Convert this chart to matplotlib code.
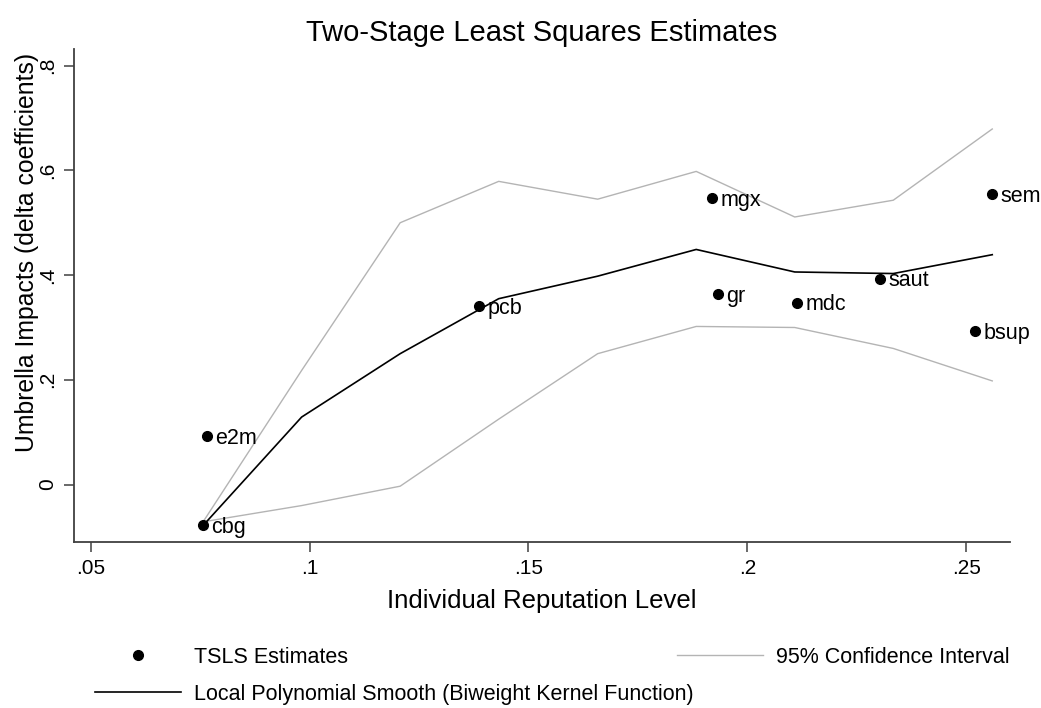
import matplotlib
matplotlib.use("Agg")
import matplotlib.pyplot as plt
from matplotlib.lines import Line2D

plt.rcParams['font.family'] = ['Liberation Sans', 'DejaVu Sans']

# TSLS estimates
names = ["cbg", "e2m", "pcb", "mgx", "gr", "mdc", "saut", "sem", "bsup"]
rep_x = [0.0757, 0.0765, 0.1387, 0.1920, 0.1932, 0.2114, 0.2302, 0.2559, 0.2520]
est_y = [-0.078, 0.092, 0.341, 0.547, 0.363, 0.347, 0.393, 0.555, 0.293]

# smoothing grid and fits
grid_x = [0.0757, 0.0982, 0.1207, 0.1432, 0.1658, 0.1883, 0.2108, 0.2333, 0.2559]
smooth_y = [-0.078, 0.129, 0.250, 0.355, 0.398, 0.449, 0.406, 0.403, 0.439]
ci_hi = [-0.071, 0.218, 0.500, 0.579, 0.545, 0.598, 0.511, 0.543, 0.679]
ci_lo = [-0.071, -0.040, -0.003, 0.125, 0.250, 0.302, 0.300, 0.260, 0.198]

xticks = [0.05, 0.1, 0.15, 0.2, 0.25]
xtick_labels = [".05", ".1", ".15", ".2", ".25"]
yticks = [0, 0.2, 0.4, 0.6, 0.8]
ytick_labels = ["0", ".2", ".4", ".6", ".8"]

fig = plt.figure(figsize=(10.41, 7.08), dpi=100)
ax = fig.add_axes([0.071, 0.2345, 0.899, 0.6965])

grey = "#b4b4b4"
ax.plot(grid_x, ci_hi, color=grey, lw=1.0)
ax.plot(grid_x, ci_lo, color=grey, lw=1.0)
ax.plot(grid_x, smooth_y, color="black", lw=1.2)
ax.plot(rep_x, est_y, "o", color="black", ms=7, zorder=5)

for n, x, y in zip(names, rep_x, est_y):
    ax.annotate(n, (x, y), xytext=(6, -1.5), textcoords="offset points",
                va="center", ha="left", fontsize=15.5, annotation_clip=False)

ax.set_xlim(0.0462, 0.2599)
ax.set_ylim(-0.1095, 0.832)
ax.set_xticks(xticks)
ax.set_xticklabels(xtick_labels)
ax.set_yticks(yticks)
ax.set_yticklabels(ytick_labels, rotation=90, va="center")

for s in ["top", "right"]:
    ax.spines[s].set_visible(False)
for s in ["left", "bottom"]:
    ax.spines[s].set_color("#404040")
    ax.spines[s].set_linewidth(1.3)
ax.tick_params(direction="out", length=7, width=1.1, color="#404040",
               labelsize=15, pad=5)

ax.set_xlabel("Individual Reputation Level", fontsize=18.5, labelpad=8)
ax.set_ylabel("Umbrella Impacts (delta coefficients)", fontsize=17.8)
ax.yaxis.set_label_coords(-0.037, 0.588)
ax.set_title("Two-Stage Least Squares Estimates", fontsize=21, pad=6)

h_est = Line2D([], [], marker="o", ls="", color="black", ms=7)
h_sm = Line2D([], [], color="black", lw=1.2)
h_ci = Line2D([], [], color=grey, lw=1.0)
fig.legend([h_est, h_sm], ["TSLS Estimates",
           "Local Polynomial Smooth (Biweight Kernel Function)"],
           loc="upper left", bbox_to_anchor=(0.0913, 0.0862),
           frameon=False, fontsize=15.5, handlelength=4.0,
           labelspacing=0.74, handletextpad=0.6,
           borderpad=0, borderaxespad=0)
fig.legend([h_ci], ["95% Confidence Interval"],
           loc="upper right", bbox_to_anchor=(0.970, 0.0862),
           frameon=False, fontsize=15.5, handlelength=4.0,
           handletextpad=0.6, borderpad=0, borderaxespad=0)

fig.savefig("out.png", dpi=100)
